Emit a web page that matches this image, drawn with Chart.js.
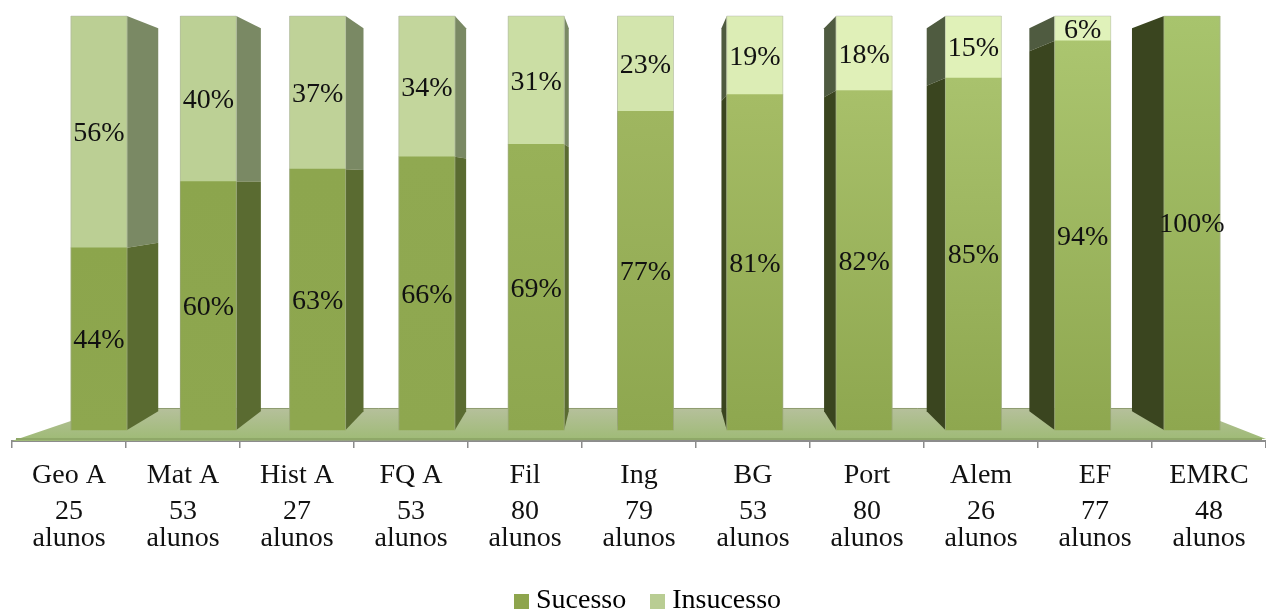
<!DOCTYPE html>
<html><head><meta charset="utf-8">
<style>html,body{margin:0;padding:0;background:#fff;overflow:hidden}canvas{display:block}</style>
<script src="https://cdn.jsdelivr.net/npm/chart.js@4"></script>
</head><body><canvas id="c" width="1266" height="610"></canvas>
<script>
const subjects = ["Geo A","Mat A","Hist A","FQ A","Fil","Ing","BG","Port","Alem","EF","EMRC"];
const students = ["25","53","27","53","80","79","53","80","26","77","48"];
const sucesso = [44,60,63,66,69,77,81,82,85,94,100];
const insucesso = [56,40,37,34,31,23,19,18,15,6,0];
const positions = [0,1,2,3,4,5,6,7,8,9,10];

const sucessoTop = ["#8ca54c","#8ca54d","#8da64e","#90a951","#98b158","#9fb660","#a5bc65","#a8c06a","#a9c26d","#abc56f","#a8c46d"];
const insucessoCol = ["#bbcf94","#bcd095","#bfd298","#c3d69c","#cbdea4","#d3e5ad","#dcedb5","#e0f0b8","#e0f1b8","#e0f2ba","#e0f2ba"];
const FONT = '"Liberation Serif", serif';
const BOTTOM = "#8ea74f";

function swatch(col){
  const s=document.createElement('canvas');s.width=15;s.height=15;
  const g=s.getContext('2d');g.fillStyle=col;g.fillRect(0,0,15,15);return s;
}
function sucessoFill(ctx){
  const i=ctx.dataIndex;
  const a=ctx.chart.chartArea;
  if(i===undefined||!a) return BOTTOM;
  const y=ctx.chart.scales.y;
  const g=ctx.chart.ctx.createLinearGradient(0,y.getPixelForValue(0),0,y.getPixelForValue(sucesso[i]));
  g.addColorStop(0,BOTTOM);g.addColorStop(1,sucessoTop[i]);
  return g;
}

const depthX=0.061, depthY=0.075, vanishY=180;
const sideColors={rightLow:"#5a6b31",rightHigh:"#7a8964",leftLow:"#3a451f",leftHigh:"#4f5b40"};
const LEGEND_SHIFT=-8;

const scene={
  id:'scene',
  afterLayout(chart){
    const l=chart.legend; l.left+=12; l.right+=12; l.top+=LEGEND_SHIFT; l.bottom+=LEGEND_SHIFT;
  },
  beforeDatasetsDraw(chart){
    const c=chart.ctx,a=chart.chartArea,y=chart.scales.y;
    const base=y.getPixelForValue(0), backY=base-22, botY=a.bottom;
    c.save();
    // floor
    c.beginPath();
    c.moveTo(a.left,botY);c.lineTo(a.left+97,backY);c.lineTo(a.right-79,backY);c.lineTo(a.right,botY-2);c.closePath();
    const g=c.createLinearGradient(0,backY,0,botY-3);
    g.addColorStop(0,"#b6c09c");g.addColorStop(1,"#a0bb78");
    c.fillStyle=g;c.fill();
    c.fillStyle="#8fa868";c.fillRect(a.left+4,botY-3,a.right-a.left-8,2);
    c.strokeStyle="#8e9c70";c.lineWidth=1;c.beginPath();c.moveTo(a.left+97,backY+.5);c.lineTo(a.right-79,backY+.5);c.stroke();
    // side faces
    const xv=(a.left+a.right)/2;
    const m0=chart.getDatasetMeta(0).data,m1=chart.getDatasetMeta(1).data;
    m0.forEach((b0,i)=>{
      const b1=m1[i], w=b0.width/2;
      const right=b0.x+w<xv, edge=right?b0.x+w:b0.x-w;
      const dx=depthX*(xv-edge);
      const back=p=>p+depthY*(vanishY-p);
      const seg=(t,bt,col)=>{
        c.fillStyle=col;c.beginPath();
        c.moveTo(edge,t);c.lineTo(edge+dx,back(t));c.lineTo(edge+dx,back(bt));c.lineTo(edge,bt);c.closePath();c.fill();
      };
      if(insucesso[i]>0) seg(b1.y,b1.base,right?sideColors.rightHigh:sideColors.leftHigh);
      seg(b0.y,b0.base,right?sideColors.rightLow:sideColors.leftLow);
    });
    c.restore();
  },
  afterDatasetsDraw(chart){
    const c=chart.ctx;
    c.save();
    c.font='28px '+FONT;c.fillStyle='#111';c.textAlign='center';c.textBaseline='middle';
    const m0=chart.getDatasetMeta(0).data,m1=chart.getDatasetMeta(1).data;
    m0.forEach((b0,i)=>{
      const w=b0.width/2,top=insucesso[i]>0?m1[i].y:b0.y;
      c.strokeStyle="rgba(170,170,170,.4)";c.lineWidth=1;
      c.beginPath();c.moveTo(b0.x-w,b0.base);c.lineTo(b0.x-w,top);c.lineTo(b0.x+w,top);c.lineTo(b0.x+w,b0.base);c.stroke();
      c.fillText(sucesso[i]+'%',b0.x,(b0.y+b0.base)/2+2);
      if(insucesso[i]>0) c.fillText(insucesso[i]+'%',m1[i].x,(m1[i].y+m1[i].base)/2+2);
    });
    c.restore();
  }
};

new Chart(document.getElementById('c'),{
  type:'bar',
  data:{datasets:[
    {label:'Sucesso',data:positions.map(i=>({x:i,y:sucesso[i]})),backgroundColor:sucessoFill,stack:'s',xAxisID:'xb',yAxisID:'y',barThickness:56,borderWidth:0},
    {label:'Insucesso',data:positions.map(i=>({x:i,y:insucesso[i]})),backgroundColor:ctx=>insucessoCol[ctx.dataIndex===undefined?0:ctx.dataIndex],stack:'s',xAxisID:'xb',yAxisID:'y',barThickness:56,borderWidth:0}
  ]},
  plugins:[scene],
  options:{
    responsive:false,animation:false,
    layout:{padding:{left:12,right:0,top:16,bottom:-23}},
    scales:{
      xb:{type:'linear',display:false,stacked:true,min:-0.796,max:10.677,offset:false},
      y:{display:false,stacked:true,min:-2.66,max:100},
      x:{type:'category',position:'bottom',labels:subjects,offset:true,
        grid:{offset:true,drawOnChartArea:false,drawTicks:true,tickLength:7,color:'#8c8c8c',lineWidth:1.5},
        border:{display:true,color:'#8c8c8c',width:2},
        ticks:{maxRotation:0,autoSkip:false,padding:11,color:'#111',font:{family:FONT,size:28}},
        afterFit(s){s.height=57;}
      },
      xn:{type:'category',position:'bottom',labels:students.map(n=>[n,'alunos']),offset:true,
        grid:{display:false,drawTicks:false},border:{display:false},
        ticks:{maxRotation:0,autoSkip:false,padding:0,color:'#111',font:{family:FONT,size:28,lineHeight:0.97}},
        afterFit(s){s.height=66;}
      }
    },
    plugins:{
      tooltip:{enabled:false},
      legend:{position:'bottom',
        labels:{color:'#111',font:{family:FONT,size:28},usePointStyle:true,pointStyleWidth:1,padding:31,
          generateLabels(){return [
            {text:'Sucesso',fillStyle:BOTTOM,strokeStyle:BOTTOM,lineWidth:0,pointStyle:swatch("#8ea54d"),datasetIndex:0},
            {text:'Insucesso',fillStyle:"#b9cd93",strokeStyle:"#b9cd93",lineWidth:0,pointStyle:swatch("#b9cd93"),datasetIndex:1}
          ];}
        }
      }
    }
  }
});
</script></body></html>
